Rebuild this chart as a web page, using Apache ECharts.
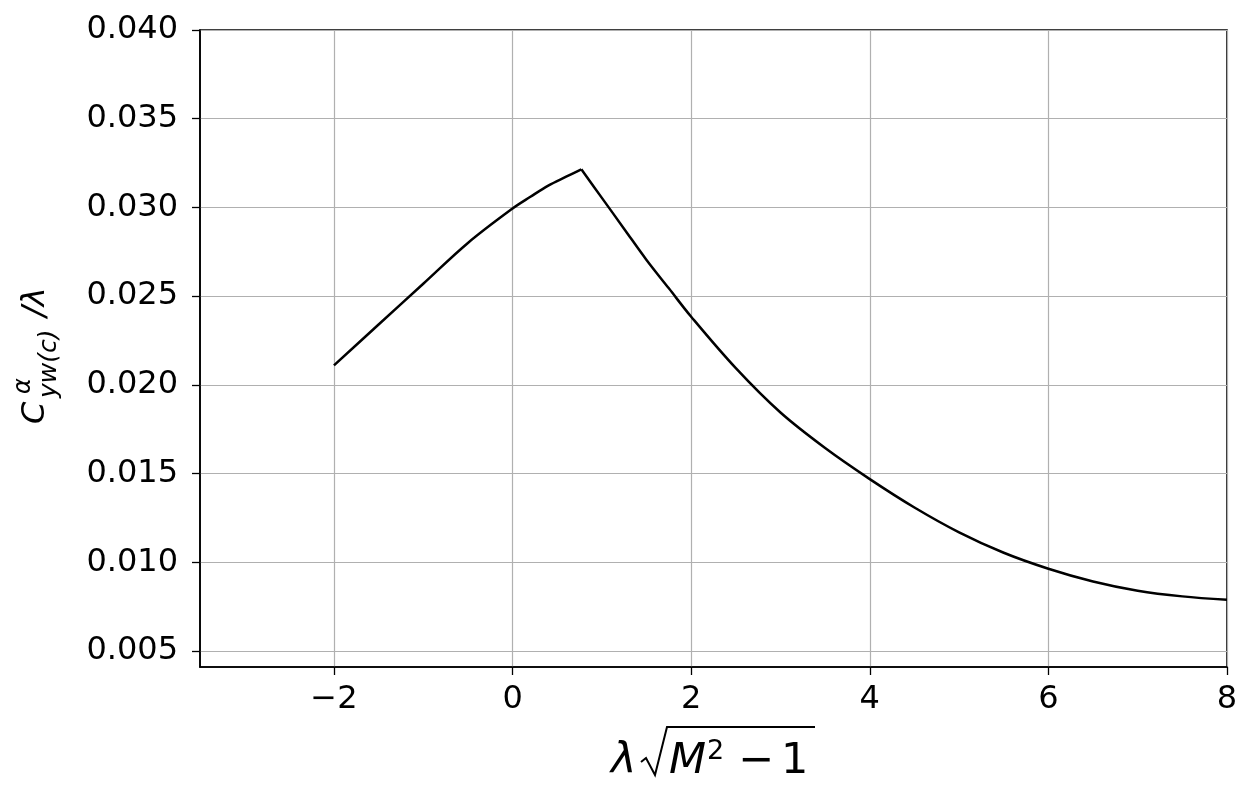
<!DOCTYPE html>
<html><head><meta charset="utf-8">
<script src="https://cdn.jsdelivr.net/npm/echarts@6/dist/echarts.min.js"></script>
<style>html,body{margin:0;padding:0;background:#fff}#c{width:1253px;height:794px}</style>
</head><body><div id="c"></div>
<script>
// rising branch (up to the peak) and falling branch (from the peak)
const xRise = [-2.0, -1.5, -1.0, -0.5, 0.0, 0.2, 0.4, 0.6, 0.77];
const yRise = [0.0211, 0.0234, 0.0257, 0.0280, 0.02994, 0.0306, 0.03123, 0.03173, 0.03215];
const xFall = [0.77, 1.0, 1.25, 1.5, 1.75, 2.0, 2.5, 3.0, 3.5, 4.0, 4.5, 5.0, 5.5, 6.0, 6.5, 7.0, 7.5, 8.0];
const yFall = [0.03215, 0.03054, 0.02879, 0.02704, 0.02544, 0.02384, 0.02094, 0.01844, 0.01644, 0.01469, 0.01309, 0.01169, 0.01054, 0.00964, 0.00892, 0.0084, 0.00808, 0.00789];
const xTicks = [-2, 0, 2, 4, 6, 8];
const yTicks = [0.005, 0.010, 0.015, 0.020, 0.025, 0.030, 0.035, 0.040];

const chart = echarts.init(document.getElementById('c'), null, {renderer: 'canvas'});
const font = 'DejaVu Sans';
const lineStyle = {color: '#000', width: 2.5};
const mkSeries = (xs, ys) => ({
  type: 'line', data: xs.map((x, i) => [x, ys[i]]),
  showSymbol: false, smooth: 0.35, lineStyle: lineStyle
});
chart.setOption({
  animation: false,
  backgroundColor: '#fff',
  grid: {left: 200, right: 26, top: 30, bottom: 127, show: true, borderColor: '#000', borderWidth: 1.6},
  xAxis: {
    type: 'value', min: -3.5, max: 8,
    axisLine: {show: true, onZero: false, lineStyle: {color: '#000', width: 1.6}},
    axisTick: {show: true, length: 8, customValues: xTicks, lineStyle: {color: '#000', width: 1.3}},
    axisLabel: {show: true, customValues: xTicks, margin: 17, color: '#000', fontFamily: font, fontSize: 32,
      formatter: v => (v < 0 ? '\u2212' + Math.abs(v) : String(v))},
    splitLine: {show: true, lineStyle: {color: '#b0b0b0', width: 1.2}}
  },
  yAxis: {
    type: 'value', min: 0.0041, max: 0.040,
    axisLine: {show: true, onZero: false, lineStyle: {color: '#000', width: 1.6}},
    axisTick: {show: true, length: 8, customValues: yTicks, lineStyle: {color: '#000', width: 1.3}},
    axisLabel: {show: true, customValues: yTicks, margin: 22, color: '#000', fontFamily: font, fontSize: 32,
      formatter: v => v.toFixed(3)},
    splitLine: {show: true, lineStyle: {color: '#b0b0b0', width: 1.2}}
  },
  series: [mkSeries(xRise, yRise), mkSeries(xFall, yFall)],
  graphic: [
    {type: 'group', x: 46, y: 424, rotation: Math.PI / 2, children: [
      {type: 'text', x: 0, y: 6, style: {text: 'C', font: 'italic 32px "DejaVu Sans"', fill: '#000', textVerticalAlign: 'bottom'}},
      {type: 'text', x: 30, y: -10, style: {text: '\u03b1', font: 'italic 24px "DejaVu Sans"', fill: '#000', textVerticalAlign: 'bottom'}},
      {type: 'text', x: 26, y: 16, style: {text: 'yw(c)', font: 'italic 25px "DejaVu Sans"', fill: '#000', textVerticalAlign: 'bottom'}},
      {type: 'text', x: 107, y: 6, style: {text: '/\u03bb', font: 'italic 32px "DejaVu Sans"', fill: '#000', textVerticalAlign: 'bottom'}}
    ]},
    {type: 'text', x: 611, y: 783, style: {text: '\u03bb', font: 'italic 43px "DejaVu Sans"', fill: '#000', textVerticalAlign: 'bottom'}},
    {type: 'polyline', shape: {points: [[641, 762], [646, 758], [655, 775], [667, 727], [815, 727]]}, style: {stroke: '#000', lineWidth: 2, fill: null}},
    {type: 'text', x: 669, y: 783, style: {text: 'M', font: 'italic 43px "DejaVu Sans"', fill: '#000', textVerticalAlign: 'bottom'}},
    {type: 'text', x: 707, y: 765, style: {text: '2', font: '27px "DejaVu Sans"', fill: '#000', textVerticalAlign: 'bottom'}},
    {type: 'text', x: 738, y: 783, style: {text: '\u2212', font: '43px "DejaVu Sans"', fill: '#000', textVerticalAlign: 'bottom'}},
    {type: 'text', x: 781, y: 783, style: {text: '1', font: '43px "DejaVu Sans"', fill: '#000', textVerticalAlign: 'bottom'}}
  ]
});
</script></body></html>
